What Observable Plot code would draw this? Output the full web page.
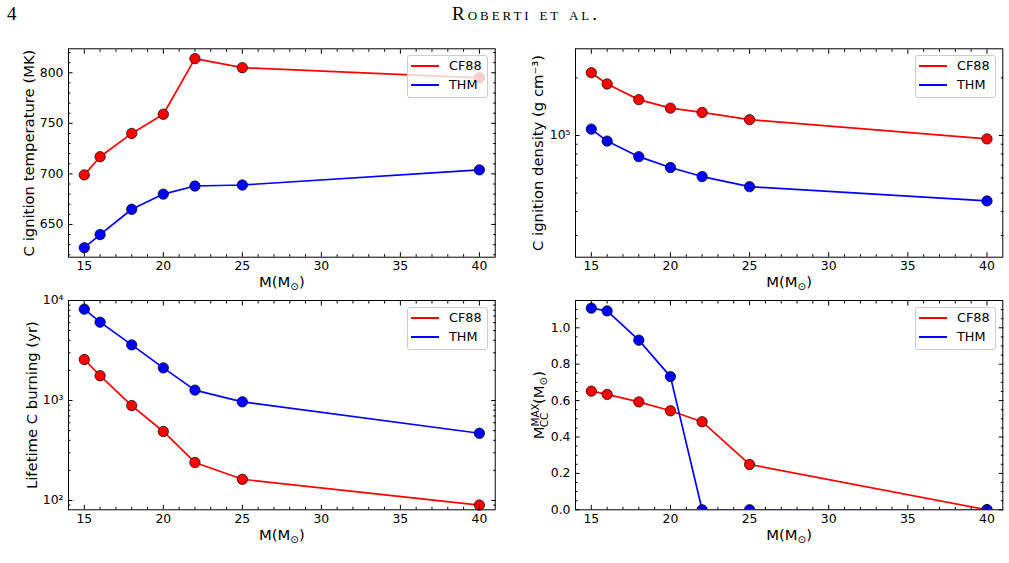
<!DOCTYPE html>
<html>
<head>
<meta charset="utf-8">
<script src="https://cdn.jsdelivr.net/npm/d3@7"></script>
<script src="https://cdn.jsdelivr.net/npm/@observablehq/plot@0.6"></script>
<style>
  html, body { margin: 0; padding: 0; background: #fff; }
  #page { position: relative; width: 1009px; height: 563px; overflow: hidden; background: #fff; }
  .panel { position: absolute; }
  .legend {
    position: absolute; box-sizing: border-box;
    background: rgba(255, 255, 255, 0.8);
    border: 1px solid #cccccc; border-radius: 3px;
    font-family: "DejaVu Sans"; font-size: 12.8px; color: #000;
  }
  .legend .swatch { position: absolute; height: 2px; }
  .legend .name { position: absolute; line-height: 14px; white-space: nowrap; }
  #header { position: absolute; left: 0; top: 0; }
</style>
</head>
<body>
<div id="page">
  <svg id="header" width="1009" height="34">
    <text x="7" y="20" font-family="Liberation Serif" font-size="19">4</text>
    <text x="452" y="20" font-family="Liberation Serif" font-size="19" style="font-variant: small-caps"
          textLength="145" lengthAdjust="spacing">Roberti et al.</text>
  </svg>
</div>
<script>
// ---- data: stellar mass (Msun) and carbon-burning quantities for two rate sets ----
const masses = [15, 16, 18, 20, 22, 25, 40];
const seriesNames = ["CF88", "THM"];
const seriesColors = ["#ff0000", "#0000ff"];

const ignitionTempCF88 = [699, 717, 740, 759, 814, 805, 795];
const ignitionTempTHM  = [627, 640, 665, 680, 688, 689, 704];

const ignitionDensCF88 = [2.13e5, 1.86e5, 1.54e5, 1.39e5, 1.32e5, 1.21e5, 9.6e4];
const ignitionDensTHM  = [1.08e5, 9.35e4, 7.75e4, 6.8e4, 6.1e4, 5.4e4, 4.55e4];

const lifetimeCF88 = [2570, 1770, 890, 490, 240, 163, 90];
const lifetimeTHM  = [8190, 6070, 3600, 2120, 1270, 970, 470];

const maxConvCoreCF88 = [0.652, 0.634, 0.593, 0.544, 0.484, 0.249, 0];
const maxConvCoreTHM  = [1.108, 1.093, 0.932, 0.732, 0, 0, 0];

// ---- tick values ----
const xTicks = [15, 20, 25, 30, 35, 40];
const xMinorTicks = [16, 17, 18, 19, 21, 22, 23, 24, 26, 27, 28, 29, 31, 32, 33, 34, 36, 37, 38, 39];
const tempTicks = [650, 700, 750, 800];
const tempMinorTicks = [620, 630, 640, 660, 670, 680, 690, 710, 720, 730, 740, 760, 770, 780, 790, 810, 820];
const densTicks = [1e5];
const densMinorTicks = [3e4, 4e4, 5e4, 6e4, 7e4, 8e4, 9e4, 2e5];
const lifeTicks = [1e2, 1e3, 1e4];
const lifeMinorTicks = [90, 200, 300, 400, 500, 600, 700, 800, 900, 2000, 3000, 4000, 5000, 6000, 7000, 8000, 9000];
const mccTicks = [0, 0.2, 0.4, 0.6, 0.8, 1.0];
const mccMinorTicks = [0.05, 0.1, 0.15, 0.25, 0.3, 0.35, 0.45, 0.5, 0.55, 0.65, 0.7, 0.75, 0.85, 0.9, 0.95, 1.05, 1.1];

const xLabel = "M(M⊙)";
const sup = {"-": "⁻", "1": "¹", "2": "²", "3": "³", "4": "⁴", "5": "⁵", "6": "⁶"};
const powerOfTen = d => "10" + String(Math.round(Math.log10(d))).split("").map(c => sup[c]).join("");

function rows(a, b) {
  return [a, b].flatMap((vals, s) => masses.map((m, i) => ({mass: m, value: vals[i], series: seriesNames[s]})));
}

const page = document.getElementById("page");
const FONT = "DejaVu Sans";
const TITLE_SIZE = 14.8;

function panel(cfg) {
  const {left, top, width, height, frame, y, yTicks, yMinor, yFormat, yLabel, yLabelDx, data, clip} = cfg;
  const mL = frame.l - left, mR = left + width - frame.r, mT = frame.t - top, mB = top + height - frame.b;
  const marks = [];
  seriesNames.forEach((name, s) => {
    const d = data.filter(r => r.series === name);
    marks.push(Plot.line(d, {x: "mass", y: "value", stroke: seriesColors[s], strokeWidth: 1.7, clip}));
    marks.push(Plot.dot(d, {x: "mass", y: "value", r: 5.2, fill: seriesColors[s], stroke: "#000", strokeWidth: 0.7, clip}));
  });
  marks.push(
    Plot.frame({stroke: "#000", strokeWidth: 1}),
    // tick labels
    Plot.axisX(xTicks, {anchor: "bottom", tickSize: 0, tickPadding: 4, label: null}),
    Plot.axisY(yTicks, {anchor: "left", tickSize: 0, tickPadding: 5, tickFormat: yFormat, label: null}),
    // inward ticks on all four sides
    ...["bottom", "top"].flatMap(a => [
      Plot.axisX(xTicks, {anchor: a, tickSize: -4.5, fill: "none", label: null}),
      Plot.axisX(xMinorTicks, {anchor: a, tickSize: -2.5, fill: "none", label: null})
    ]),
    ...["left", "right"].flatMap(a => [
      Plot.axisY(yTicks, {anchor: a, tickSize: -4.5, fill: "none", label: null}),
      Plot.axisY(yMinor, {anchor: a, tickSize: -2.5, fill: "none", label: null})
    ]),
    // axis titles
    Plot.text([xLabel], {frameAnchor: "bottom", lineAnchor: "middle", textAnchor: "middle", dy: 25.5, fontSize: TITLE_SIZE, text: d => d}),
    Plot.text([yLabel], {frameAnchor: "left", lineAnchor: "middle", textAnchor: "middle", dx: yLabelDx, rotate: -90, fontSize: TITLE_SIZE, text: d => d})
  );
  const svg = Plot.plot({
    width, height,
    marginLeft: mL, marginRight: mR, marginTop: mT, marginBottom: mB,
    style: {fontFamily: FONT, fontSize: "12.4px", color: "#000", background: "transparent", overflow: "visible"},
    x: {domain: [14, 41], label: null},
    y: {...y, label: null},
    marks
  });
  const holder = document.createElement("div");
  holder.className = "panel";
  holder.style.left = left + "px";
  holder.style.top = top + "px";
  holder.style.width = width + "px";
  holder.style.height = height + "px";
  holder.appendChild(svg);
  page.appendChild(holder);

  // legend box in the upper-right corner of the frame
  const lg = document.createElement("div");
  lg.className = "legend";
  const lw = 81, lh = 43;
  lg.style.left = Math.round(frame.r - 6.5 - lw) + "px";
  lg.style.top = Math.round(frame.t + 6.7) + "px";
  lg.style.width = lw + "px";
  lg.style.height = lh + "px";
  seriesNames.forEach((name, s) => {
    const cy = 10 + s * 19;
    const sw = document.createElement("div");
    sw.className = "swatch";
    sw.style.left = "3px"; sw.style.width = "28px";
    sw.style.top = (cy - 1) + "px";
    sw.style.background = seriesColors[s];
    const tx = document.createElement("div");
    tx.className = "name";
    tx.style.left = "41px";
    tx.style.top = (cy - 7) + "px";
    tx.textContent = name;
    lg.appendChild(sw); lg.appendChild(tx);
  });
  page.appendChild(lg);
  return svg;
}

function findText(svg, str) {
  return d3.select(svg).selectAll("text").filter(function() { return this.textContent === str; });
}

// solar-mass subscript in the x title
function styleXLabel(svg) {
  findText(svg, xLabel).each(function() {
    const t = d3.select(this);
    t.text(null);
    t.append("tspan").text("M(M");
    t.append("tspan").attr("font-size", 10.4).attr("dy", 3).text("⊙");
    t.append("tspan").attr("dy", -3).text(")");
  });
}

const tl = panel({
  left: 0, top: 40, width: 500, height: 255,
  frame: {l: 68, r: 494.7, t: 48.3, b: 256.7},
  y: {domain: [617.6, 823.7]},
  yTicks: tempTicks, yMinor: tempMinorTicks, yFormat: d => String(d),
  yLabel: "C ignition temperature (MK)", yLabelDx: -39.6,
  data: rows(ignitionTempCF88, ignitionTempTHM), clip: false
});
const tr = panel({
  left: 500, top: 40, width: 509, height: 255,
  frame: {l: 575, r: 1002.3, t: 48.3, b: 256.7},
  y: {type: "log", domain: [2.31e4, 2.84e5]},
  yTicks: densTicks, yMinor: densMinorTicks, yFormat: powerOfTen,
  yLabel: "C ignition density (g cm⁻³)", yLabelDx: -37,
  data: rows(ignitionDensCF88, ignitionDensTHM), clip: false
});
const bl = panel({
  left: 0, top: 285, width: 500, height: 270,
  frame: {l: 68, r: 494.7, t: 300, b: 509.3},
  y: {type: "log", domain: [80.7, 1e4]},
  yTicks: lifeTicks, yMinor: lifeMinorTicks, yFormat: powerOfTen,
  yLabel: "Lifetime C burning (yr)", yLabelDx: -36,
  data: rows(lifetimeCF88, lifetimeTHM), clip: false
});
const mccLabel = "MCCMAX(M⊙)";
const br = panel({
  left: 500, top: 285, width: 509, height: 270,
  frame: {l: 575, r: 1002.3, t: 300, b: 509.3},
  y: {domain: [0, 1.15]},
  yTicks: mccTicks, yMinor: mccMinorTicks, yFormat: d => d.toFixed(1),
  yLabel: mccLabel, yLabelDx: -36,
  data: rows(maxConvCoreCF88, maxConvCoreTHM), clip: true
});

[tl, tr, bl, br].forEach(styleXLabel);

// stacked super/subscript for the maximum convective core title
findText(br, mccLabel).each(function() {
  const t = d3.select(this);
  t.text(null);
  const small = 10.4;
  t.append("tspan").text("M");
  const hi = t.append("tspan").attr("font-size", small).attr("dy", -5.5).text("MAX");
  const wHi = hi.node().getComputedTextLength();
  const lo = t.append("tspan").attr("font-size", small).attr("dx", -wHi).attr("dy", 9).text("CC");
  const wLo = lo.node().getComputedTextLength();
  t.append("tspan").attr("dx", Math.max(0, wHi - wLo)).attr("dy", -3.5).text("(M");
  t.append("tspan").attr("font-size", small).attr("dy", 3).text("⊙");
  t.append("tspan").attr("dy", -3).text(")");
});
</script>
</body>
</html>
